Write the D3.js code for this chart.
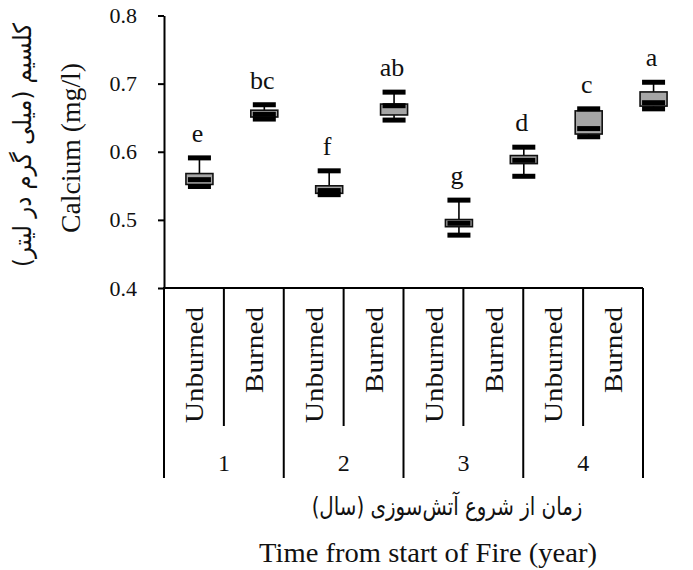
<!DOCTYPE html>
<html><head><meta charset="utf-8">
<script src="https://cdn.jsdelivr.net/npm/d3@7"></script>
<style>body{margin:0;background:#fff}svg{display:block;font-family:"Liberation Serif",serif}</style>
</head><body>
<svg id="chart" width="693" height="570"></svg>
<script>
// ---- data ----
const years = ["1", "2", "3", "4"];
const treatments = ["Unburned", "Burned"];
const maxVals    = [0.591, 0.669, 0.572, 0.6875, 0.529, 0.6067, 0.663, 0.702];
const q3Vals     = [0.568, 0.661, 0.550, 0.670, 0.5005, 0.5944, 0.660, 0.6878];
const medianVals = [0.559, 0.655, 0.543, 0.6676, 0.495, 0.5874, 0.634, 0.672];
const q1Vals     = [0.552, 0.651, 0.539, 0.654, 0.490, 0.5826, 0.626, 0.667];
const minVals    = [0.549, 0.648, 0.537, 0.6465, 0.4776, 0.564, 0.622, 0.663];
const letters    = ["e", "bc", "f", "ab", "g", "d", "c", "a"];
const yTicks     = [0.4, 0.5, 0.6, 0.7, 0.8];
const yTitleEn = "Calcium (mg/l)";
const yTitleFa = "کلسیم (میلی گرم در لیتر)";
const xTitleEn = "Time from start of Fire (year)";
const xTitleFa = "زمان از شروع آتش\u200cسوزی (سال)";

const cats = [];
years.forEach(y => treatments.forEach(t => cats.push({year: y, treat: t, id: y + "-" + t})));
const rows = cats.map((c, i) => ({...c, min: minVals[i], q1: q1Vals[i], med: medianVals[i], q3: q3Vals[i], max: maxVals[i], letter: letters[i]}));

// ---- layout ----
const serif = '"Liberation Serif", serif';
const farsi = '"DejaVu Sans", sans-serif';
const svg = d3.select("#chart");
const axisX = 164, right = 643, yTop = 15.5, yBottom = 288;
const tableBottom = 478, innerBottom = 426;

const y = d3.scaleLinear().domain([0.4, 0.8]).range([yBottom, yTop]);
const xCat = d3.scaleBand().domain(cats.map(c => c.id)).range([axisX, right]);
const xYear = d3.scaleBand().domain(years).range([axisX, right]);
const xBox = d3.scaleBand().domain(cats.map(c => c.id)).range([167, 686]);

const boxW = 27, capW = 23, capH = 5, medH = 5;

// y axis
const yAxis = svg.append("g").attr("transform", `translate(${axisX},0)`)
  .call(d3.axisLeft(y).tickValues(yTicks).tickFormat(d3.format(".1f")).tickSize(6).tickSizeOuter(0).tickPadding(21));
yAxis.attr("font-family", null).attr("font-size", null);
yAxis.select(".domain").attr("stroke", "#000").attr("stroke-width", 2);
yAxis.selectAll(".tick line").attr("stroke", "#000").attr("stroke-width", 2);
yAxis.selectAll(".tick text").style("font-family", serif).style("font-size", "22px").attr("fill", "#111");

// category table lines
const lines = svg.append("g").attr("stroke", "#000").attr("stroke-width", 2);
lines.append("line").attr("x1", axisX - 1).attr("x2", right).attr("y1", yBottom).attr("y2", yBottom);
lines.append("line").attr("x1", axisX).attr("x2", axisX).attr("y1", yBottom).attr("y2", tableBottom);
years.forEach(yr => {
  const xe = xYear(yr) + xYear.bandwidth();
  lines.append("line").attr("x1", xe).attr("x2", xe).attr("y1", yBottom).attr("y2", tableBottom);
});
cats.filter((c, i) => i % 2 === 0).forEach(c => {
  const xe = xCat(c.id) + xCat.bandwidth();
  lines.append("line").attr("x1", xe).attr("x2", xe).attr("y1", yBottom).attr("y2", innerBottom);
});

// helper for stretched text
function addText(str, x, yy, size, family, angle, target, opts = {}) {
  const t = svg.append("text").text(str)
    .style("font-family", family).style("font-size", size + "px").attr("fill", "#111")
    .attr("text-anchor", opts.anchor || "middle");
  if (opts.rtl) t.style("direction", "rtl");
  if (opts.baseline) t.attr("dominant-baseline", opts.baseline);
  let s = 1;
  if (target) s = target / t.node().getComputedTextLength();
  t.attr("transform", `translate(${x},${yy}) rotate(${angle}) scale(${s},1)`);
  return t;
}

// category labels
cats.forEach(c => {
  addText(c.treat, xCat(c.id) + xCat.bandwidth() / 2 + 1, 307, 25, serif, -90, c.treat === "Unburned" ? 116 : 86, {anchor: "end", baseline: "central"});
});
years.forEach(yr => {
  addText(yr, xYear(yr) + xYear.bandwidth() / 2, 471, 24, serif, 0, null);
});

// titles
addText(xTitleFa, 447, 515, 25, farsi, 0, 271, {rtl: true});
addText(xTitleEn, 428, 562, 27, serif, 0, 338);
addText(yTitleEn, 80, 148, 27, serif, -90, 170);
addText(yTitleFa, 31, 145, 25, farsi, -90, 244, {rtl: true});

// boxes
const boxes = svg.append("g").selectAll("g").data(rows).join("g")
  .attr("transform", d => `translate(${xBox(d.id) + xBox.bandwidth() / 2},0)`);
boxes.append("line").attr("x1", 0).attr("x2", 0).attr("y1", d => y(d.max)).attr("y2", d => y(d.q3))
  .attr("stroke", "#000").attr("stroke-width", 1.6);
boxes.append("line").attr("x1", 0).attr("x2", 0).attr("y1", d => y(d.q1)).attr("y2", d => y(d.min))
  .attr("stroke", "#000").attr("stroke-width", 1.6);
boxes.append("rect").attr("x", -boxW / 2).attr("width", boxW)
  .attr("y", d => y(d.q3)).attr("height", d => Math.max(1, y(d.q1) - y(d.q3)))
  .attr("fill", "#a6a6a6").attr("stroke", "#111").attr("stroke-width", 1.6);
boxes.append("rect").attr("x", -capW / 2).attr("width", capW)
  .attr("y", d => y(d.med) - medH / 2).attr("height", medH).attr("fill", "#000");
boxes.append("rect").attr("x", -capW / 2).attr("width", capW)
  .attr("y", d => y(d.max) - capH / 2).attr("height", capH).attr("fill", "#000");
boxes.append("rect").attr("x", -capW / 2).attr("width", capW)
  .attr("y", d => y(d.min) - capH / 2).attr("height", capH).attr("fill", "#000");
boxes.append("text").text(d => d.letter).attr("x", -2).attr("y", d => y(d.max) - 16)
  .attr("text-anchor", "middle").style("font-family", serif).style("font-size", "26px").attr("fill", "#111");
</script>
</body></html>
